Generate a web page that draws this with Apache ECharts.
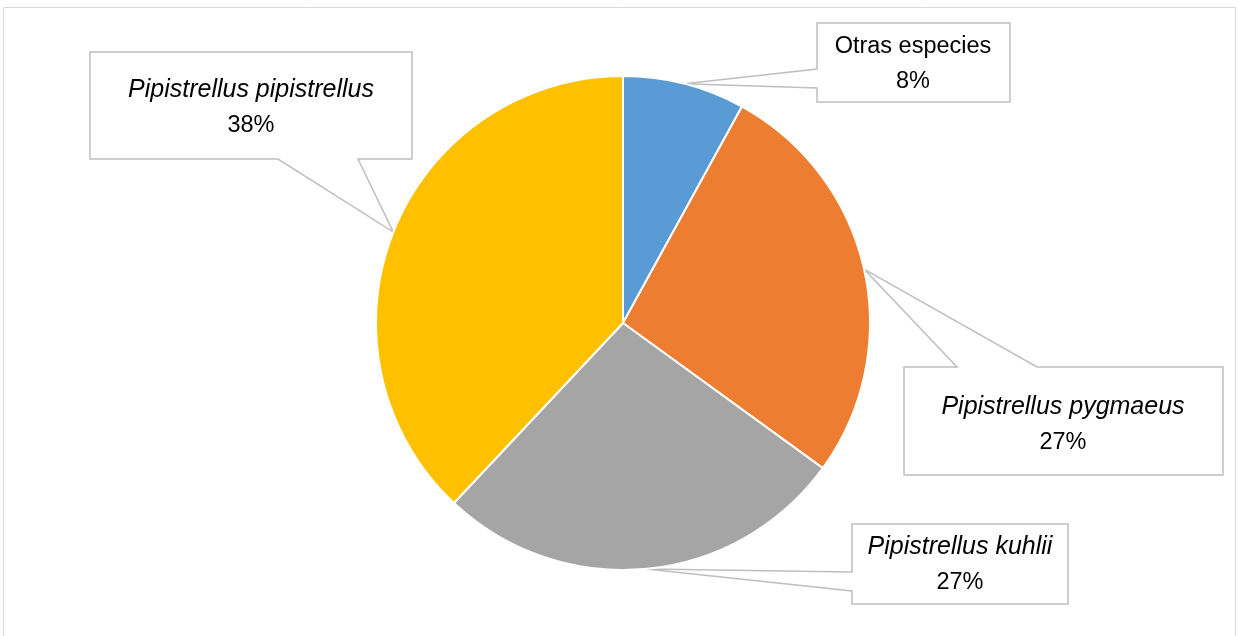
<!DOCTYPE html>
<html>
<head>
<meta charset="utf-8">
<script src="https://cdn.jsdelivr.net/npm/echarts@6/dist/echarts.min.js"></script>
<style>
html,body{margin:0;padding:0;background:#fff;}
#chart{width:1239px;height:636px;}
</style>
</head>
<body>
<div id="chart"></div>
<script>
// Data
var categories = ['Otras especies', 'Pipistrellus pygmaeus', 'Pipistrellus kuhlii', 'Pipistrellus pipistrellus'];
var values = [8, 27, 27, 38];
var italicNames = [false, true, true, true];
var colors = ['#5B9BD5', '#ED7D31', '#A5A5A5', '#FFC000'];

// Callout layout (boxes: x0, y0, x1, y1; wedge side & base)
var boxes = [
  {x0: 817, y0: 23, x1: 1010, y1: 102, side: 'left', b0: 69, b1: 88, tx: 913, ty: 64},
  {x0: 904, y0: 367, x1: 1223, y1: 475, side: 'top', b0: 957, b1: 1037, tx: 1063, ty: 425},
  {x0: 852, y0: 524, x1: 1068, y1: 604, side: 'left', b0: 572, b1: 591, tx: 960, ty: 565},
  {x0: 90, y0: 52, x1: 412, y1: 159, side: 'bottom', b0: 278, b1: 358, tx: 251, ty: 108}
];

var chart = echarts.init(document.getElementById('chart'), null, {renderer: 'canvas'});
var FONT = '"Liberation Sans", Arial, sans-serif';

var option = {
  animation: false,
  backgroundColor: '#ffffff',
  color: colors,
  series: [{
    type: 'pie',
    center: [623, 323],
    radius: 247,
    startAngle: 90,
    clockwise: true,
    itemStyle: {borderColor: '#ffffff', borderWidth: 2},
    label: {
      show: true,
      formatter: function (p) {
        var nm = italicNames[p.dataIndex] ? '{it|' + p.name + '}' : '{n|' + p.name + '}';
        return nm + '\n{n|' + p.value + '%}';
      },
      rich: {
        it: {fontFamily: FONT, fontSize: 25, fontStyle: 'italic', color: '#000', lineHeight: 35, align: 'center'},
        n: {fontFamily: FONT, fontSize: 23.5, color: '#000', lineHeight: 35, align: 'center'}
      },
      align: 'center'
    },
    labelLine: {show: false},
    labelLayout: function (params) {
      var b = boxes[params.dataIndex];
      return {x: b.tx, y: b.ty, align: 'center', verticalAlign: 'middle', hideOverlap: false, moveOverlap: null};
    },
    emphasis: {disabled: true},
    data: categories.map(function (c, i) { return {name: c, value: values[i]}; })
  }]
};
chart.setOption(option);

// Build callout shapes with tips at pie edge (mid-angle) from the library's pie layout
var data = chart.getModel().getSeriesByIndex(0).getData();
var graphics = [{
  type: 'rect', z: 0, silent: true,
  shape: {x: 3.5, y: 7.5, width: 1232, height: 700},
  style: {fill: null, stroke: '#d9d9d9', lineWidth: 1}
}];
for (var i = 0; i < values.length; i++) {
  var L = data.getItemLayout(i);
  var mid = (L.startAngle + L.endAngle) / 2;
  var tip = [L.cx + L.r * Math.cos(mid), L.cy + L.r * Math.sin(mid)];
  var b = boxes[i];
  var pts;
  if (b.side === 'left') {
    pts = [[b.x0, b.y0], [b.x1, b.y0], [b.x1, b.y1], [b.x0, b.y1], [b.x0, b.b1], tip, [b.x0, b.b0]];
  } else if (b.side === 'top') {
    pts = [[b.x0, b.y0], [b.b0, b.y0], tip, [b.b1, b.y0], [b.x1, b.y0], [b.x1, b.y1], [b.x0, b.y1]];
  } else {
    pts = [[b.x0, b.y0], [b.x1, b.y0], [b.x1, b.y1], [b.b1, b.y1], tip, [b.b0, b.y1], [b.x0, b.y1]];
  }
  graphics.push({
    type: 'polygon', z: 1, silent: true,
    shape: {points: pts},
    style: {fill: '#ffffff', stroke: '#bfbfbf', lineWidth: 1.5}
  });
}
chart.setOption({graphic: graphics});
</script>
</body>
</html>
